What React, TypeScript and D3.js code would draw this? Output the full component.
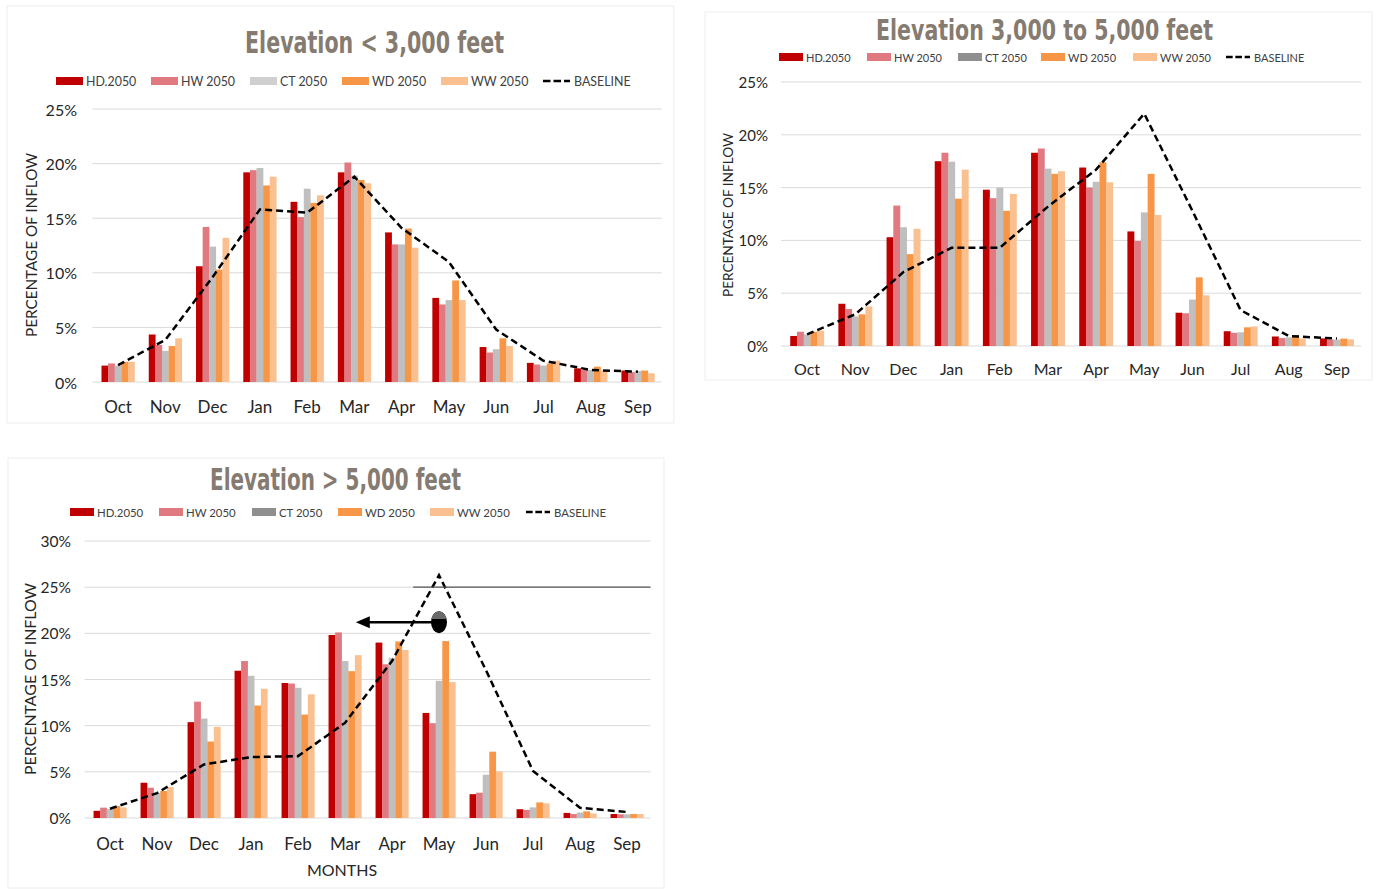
import React from "react";
import * as d3 from "d3";

// ---------- DATA ----------
const months = ["Oct", "Nov", "Dec", "Jan", "Feb", "Mar", "Apr", "May", "Jun", "Jul", "Aug", "Sep"];
const seriesNames = ["HD.2050", "HW 2050", "CT 2050", "WD 2050", "WW 2050"];
const baselineName = "BASELINE";
const yTicks25 = [0, 5, 10, 15, 20, 25];
const yTicks30 = [0, 5, 10, 15, 20, 25, 30];

// Elevation < 3,000 feet
const lowHD = [1.5, 4.35, 10.6, 19.2, 16.5, 19.2, 13.7, 7.7, 3.2, 1.75, 1.25, 1.05];
const lowHW = [1.7, 3.4, 14.2, 19.4, 15.1, 20.1, 12.6, 7.1, 2.7, 1.6, 1.1, 0.9];
const lowCT = [1.5, 2.85, 12.4, 19.6, 17.7, 18.9, 12.6, 7.5, 3.0, 1.5, 1.1, 1.0];
const lowWD = [1.85, 3.3, 10.3, 18.0, 16.4, 18.5, 14.05, 9.3, 4.0, 1.7, 1.4, 1.05];
const lowWW = [1.85, 4.0, 13.2, 18.8, 17.1, 18.2, 12.3, 7.5, 3.3, 1.95, 1.05, 0.8];
const lowBase = [1.55, 3.85, 9.6, 15.8, 15.5, 18.8, 14.1, 11.0, 4.8, 1.95, 1.1, 0.95];

// Elevation 3,000 to 5,000 feet
const midHD = [0.95, 4.0, 10.3, 17.5, 14.8, 18.3, 16.9, 10.85, 3.15, 1.4, 0.9, 0.72];
const midHW = [1.35, 3.5, 13.3, 18.3, 14.0, 18.7, 15.0, 9.95, 3.1, 1.25, 0.75, 0.62];
const midCT = [1.1, 2.8, 11.25, 17.45, 15.0, 16.8, 15.55, 12.65, 4.4, 1.3, 0.82, 0.6];
const midWD = [1.35, 3.0, 8.7, 13.95, 12.8, 16.3, 17.4, 16.3, 6.5, 1.77, 1.04, 0.7];
const midWW = [1.45, 3.75, 11.1, 16.7, 14.4, 16.55, 15.5, 12.4, 4.8, 1.85, 0.7, 0.63];
const midBase = [1.1, 3.0, 7.0, 9.3, 9.3, 13.2, 16.7, 22.0, 12.8, 3.4, 0.95, 0.7];

// Elevation > 5,000 feet
const highHD = [0.78, 3.82, 10.38, 15.95, 14.62, 19.82, 19.0, 11.38, 2.58, 0.95, 0.55, 0.43];
const highHW = [1.12, 3.28, 12.6, 17.0, 14.56, 20.1, 16.65, 10.27, 2.74, 0.88, 0.43, 0.4];
const highCT = [0.97, 2.72, 10.77, 15.4, 14.1, 17.0, 17.35, 14.86, 4.69, 1.15, 0.59, 0.4];
const highWD = [1.3, 2.92, 8.28, 12.18, 11.2, 15.9, 19.12, 19.16, 7.18, 1.69, 0.72, 0.43];
const highWW = [1.15, 3.35, 9.86, 14.0, 13.4, 17.63, 18.2, 14.72, 5.04, 1.59, 0.5, 0.43];
const highBase = [1.0, 2.7, 5.8, 6.6, 6.7, 10.3, 17.0, 26.3, 16.0, 5.1, 1.1, 0.65];

// annotation values (panel 3)
const annoLineValue = 25;
const annoArrowValue = 21.2;
const annoFrom = "May";
const annoTo = "Mar";

// ---------- STYLE ----------
const seriesColors = ["#C00000", "#E07A80", "#BFBFBF", "#F79646", "#FAC090"];
const titleColor = "#857B71";
const gridColor = "#DADADA";
const textColor = "#262626";
const labelFont = "Lato, 'Open Sans', sans-serif";
const titleFont = "'DejaVu Sans Condensed', 'Liberation Sans Narrow', 'Noto Sans', sans-serif";

type PanelCfg = {
  title: string;
  series: number[][];
  baseline: number[];
  ticks: number[];
  left: number; right: number; top: number; bottom: number;
  titleX: number; titleY: number; titleSize: number; titleLen: number;
  legendY: number; legendXs: number[]; swatchW: number; legendSize: number; ctLegend: string;
  ylabX: number; ylabY: number; ylabLen: number; ylabSize: number;
  tickEnd: number; tickSize: number;
  monthY: number; monthSize: number;
  frame: [number, number, number, number];
  xTitle?: { x: number; y: number; size: number };
  annotate?: boolean;
};

const panels: PanelCfg[] = [
  {
    title: "Elevation < 3,000 feet",
    series: [lowHD, lowHW, lowCT, lowWD, lowWW], baseline: lowBase, ticks: yTicks25,
    left: 94.4, right: 661.6, top: 109, bottom: 382,
    titleX: 374.5, titleY: 53, titleSize: 30, titleLen: 259,
    legendY: 81, legendXs: [56, 151, 250, 342, 441, 543], swatchW: 27, legendSize: 12.4, ctLegend: "#CFCFCF",
    ylabX: 31, ylabY: 245, ylabLen: 184, ylabSize: 15,
    tickEnd: 77, tickSize: 16,
    monthY: 406, monthSize: 17,
    frame: [7, 6, 667, 417],
  },
  {
    title: "Elevation 3,000 to 5,000 feet",
    series: [midHD, midHW, midCT, midWD, midWW], baseline: midBase, ticks: yTicks25,
    left: 783, right: 1361, top: 82, bottom: 346,
    titleX: 1044.5, titleY: 40, titleSize: 28, titleLen: 337,
    legendY: 57, legendXs: [779, 867, 958, 1041, 1133, 1226], swatchW: 24, legendSize: 11, ctLegend: "#8F8F8F",
    ylabX: 727, ylabY: 215, ylabLen: 164, ylabSize: 14,
    tickEnd: 768, tickSize: 15,
    monthY: 368, monthSize: 16,
    frame: [705, 12, 667, 368],
  },
  {
    title: "Elevation > 5,000 feet",
    series: [highHD, highHW, highCT, highWD, highWW], baseline: highBase, ticks: yTicks30,
    left: 86.5, right: 650.5, top: 541, bottom: 818,
    titleX: 335.5, titleY: 490, titleSize: 30, titleLen: 251,
    legendY: 512, legendXs: [70, 159, 252, 338, 430, 526], swatchW: 24, legendSize: 11.4, ctLegend: "#8F8F8F",
    ylabX: 30, ylabY: 679, ylabLen: 192, ylabSize: 15,
    tickEnd: 71, tickSize: 15.5,
    monthY: 843, monthSize: 17,
    frame: [8, 458, 656, 430],
    xTitle: { x: 342, y: 869, size: 16 },
    annotate: true,
  },
];

function Panel({ cfg }: { cfg: PanelCfg }) {
  const x0 = d3.scaleBand<string>().domain(months).range([cfg.left, cfg.right]).paddingInner(0.3).paddingOuter(0.15);
  const x1 = d3.scaleBand<string>().domain(seriesNames).range([0, x0.bandwidth()]).padding(0);
  const yMax = cfg.ticks[cfg.ticks.length - 1];
  const y = d3.scaleLinear().domain([0, yMax]).range([cfg.bottom, cfg.top]);
  const cx = (m: string) => (x0(m) as number) + x0.bandwidth() / 2;
  const line = d3.line<number>().x((_, i) => cx(months[i])).y((d) => y(d));
  const step = x0.step();
  const [fx, fy, fw, fh] = cfg.frame;

  return (
    <g>
      <rect x={fx} y={fy} width={fw} height={fh} fill="#fff" stroke="#EDEDED" strokeWidth={1} />
      <text x={cfg.titleX} y={cfg.titleY} textAnchor="middle" fill={titleColor} fontFamily={titleFont}
        fontWeight="bold" fontSize={cfg.titleSize} textLength={cfg.titleLen} lengthAdjust="spacingAndGlyphs">
        {cfg.title}
      </text>
      {/* legend */}
      {seriesNames.map((s, i) => (
        <g key={s}>
          <rect x={cfg.legendXs[i]} y={cfg.legendY - 4} width={cfg.swatchW} height={8}
            fill={i === 2 ? cfg.ctLegend : seriesColors[i]} />
          <text x={cfg.legendXs[i] + cfg.swatchW + 3} y={cfg.legendY} dominantBaseline="central"
            fontFamily={labelFont} fontSize={cfg.legendSize} fill="#404040">{s}</text>
        </g>
      ))}
      <line x1={cfg.legendXs[5]} x2={cfg.legendXs[5] + cfg.swatchW} y1={cfg.legendY} y2={cfg.legendY}
        stroke="#000" strokeWidth={2.5} strokeDasharray={`${cfg.swatchW / 3.6},${cfg.swatchW / 9}`} />
      <text x={cfg.legendXs[5] + cfg.swatchW + 4} y={cfg.legendY} dominantBaseline="central"
        fontFamily={labelFont} fontSize={cfg.legendSize} fill="#404040">{baselineName}</text>
      {/* grid + y ticks */}
      {cfg.ticks.map((t) => (
        <g key={t}>
          <line x1={cfg.left - 2} x2={cfg.right} y1={y(t)} y2={y(t)} stroke={gridColor} strokeWidth={1} />
          <text x={cfg.tickEnd} y={y(t)} textAnchor="end" dominantBaseline="central"
            fontFamily={labelFont} fontSize={cfg.tickSize} fill={textColor}>{t}%</text>
        </g>
      ))}
      <text transform={`translate(${cfg.ylabX},${cfg.ylabY}) rotate(-90)`} textAnchor="middle"
        dominantBaseline="central" fontFamily={labelFont} fontSize={cfg.ylabSize} fill={textColor}
        textLength={cfg.ylabLen} lengthAdjust="spacingAndGlyphs">PERCENTAGE OF INFLOW</text>
      {/* bars */}
      {months.map((m, mi) => (
        <g key={m} transform={`translate(${x0(m)},0)`}>
          {cfg.series.map((vals, si) => (
            <rect key={si} x={x1(seriesNames[si])} y={y(vals[mi])} width={x1.bandwidth() + 0.2}
              height={y(0) - y(vals[mi])} fill={seriesColors[si]} />
          ))}
        </g>
      ))}
      {/* month labels */}
      {months.map((m) => (
        <text key={m} x={cx(m)} y={cfg.monthY} textAnchor="middle" dominantBaseline="central"
          fontFamily={labelFont} fontSize={cfg.monthSize} fill={textColor}>{m}</text>
      ))}
      {/* baseline */}
      <path d={line(cfg.baseline) || ""} fill="none" stroke="#000" strokeWidth={2.5} strokeDasharray="7,4" />
      {cfg.xTitle && (
        <text x={cfg.xTitle.x} y={cfg.xTitle.y} textAnchor="middle" dominantBaseline="central"
          fontFamily={labelFont} fontSize={cfg.xTitle.size} fill={textColor}>MONTHS</text>
      )}
      {cfg.annotate && (() => {
        const ex = cx(annoFrom);
        const ey = y(annoArrowValue);
        const tip = cx(annoTo) + step * 0.23;
        const rx = 8, ry = 11;
        return (
          <g>
            <line x1={ex - step * 0.55} x2={cfg.right} y1={y(annoLineValue)} y2={y(annoLineValue)}
              stroke="#555" strokeWidth={1.4} />
            <line x1={ex} x2={tip + 12} y1={ey} y2={ey} stroke="#000" strokeWidth={2.5} />
            <polygon points={`${tip},${ey} ${tip + 14},${ey - 6} ${tip + 14},${ey + 6}`} fill="#000" />
            <ellipse cx={ex} cy={ey} rx={rx} ry={ry} fill="#000" />
            <path d={`M${ex - rx * 0.95},${ey - ry * 0.3} A${rx},${ry} 0 0 1 ${ex + rx * 0.95},${ey - ry * 0.3} Z`} fill="#6A6A6A" />
          </g>
        );
      })()}
    </g>
  );
}

export default function App() {
  return (
    <svg width={1378} height={890} style={{ position: "absolute", left: 0, top: 0, background: "#fff" }}>
      <rect x={0} y={0} width={1378} height={890} fill="#fff" />
      {panels.map((p, i) => (
        <Panel key={i} cfg={p} />
      ))}
    </svg>
  );
}
